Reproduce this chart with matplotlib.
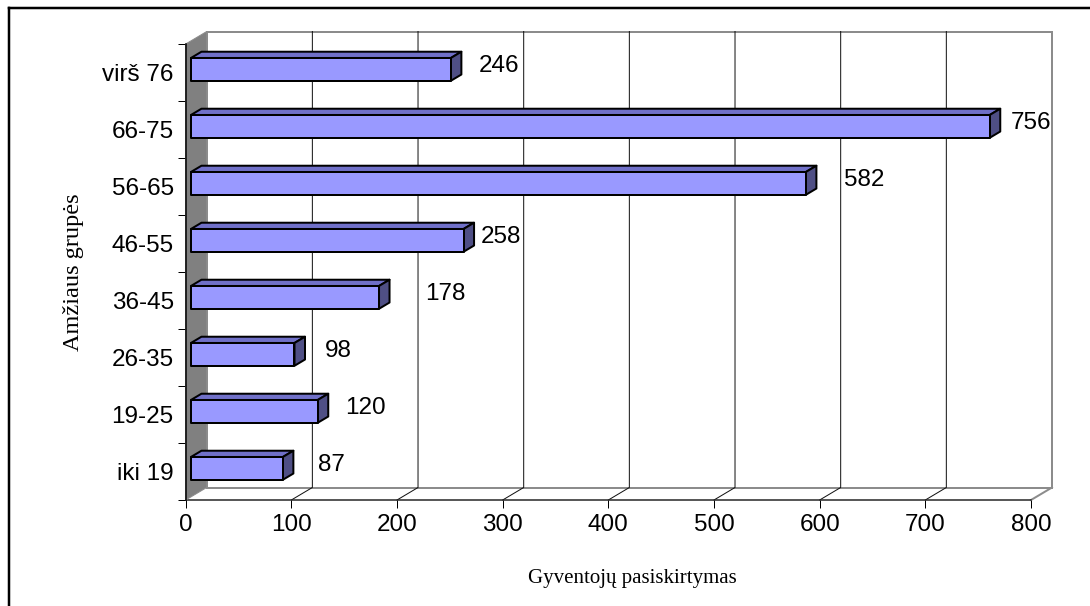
import matplotlib
matplotlib.use("Agg")
import matplotlib.pyplot as plt
from matplotlib.patches import Polygon
from matplotlib.lines import Line2D

# Age groups (bottom to top) and number of residents in each
groups = ["iki 19", "19-25", "26-35", "36-45", "46-55", "56-65", "66-75", "virš 76"]
counts = [87, 120, 98, 178, 258, 582, 756, 246]
x_ticks = [0, 100, 200, 300, 400, 500, 600, 700, 800]

# horizontal nudge of each value label, pixels
label_dx = [25, 17, 20, 36, 7, 28, 10, 17]

DPI = 100
W, H = 1090, 606
fig = plt.figure(figsize=(W / DPI, H / DPI), dpi=DPI)
fig.patch.set_facecolor("white")

x0, x1 = 185.7, 1031.0
y_bot, y_top = 500.0, 44.0
ax = fig.add_axes([x0 / W, 1 - y_bot / H, (x1 - x0) / W, (y_bot - y_top) / H])
ax.set_xlim(0, 800)
ax.set_ylim(-0.5, len(groups) - 0.5)
ax.patch.set_visible(False)

# 3-D depth of the plot box in data units
DX = 21.0 / ((x1 - x0) / 800)
DY = 12.5 / ((y_bot - y_top) / len(groups))
ytop = len(groups) - 0.5

grey = "#8c8c8c"
px = 72 / DPI
fs = 17.5

# back wall
ax.add_patch(Polygon([(DX, -0.5 + DY), (800 + DX, -0.5 + DY), (800 + DX, ytop + DY), (DX, ytop + DY)],
                     closed=True, facecolor="white", edgecolor=grey, lw=2 * px, clip_on=False, zorder=1))

# gridlines up the wall with their floor diagonals
for xv in x_ticks[1:-1]:
    ax.plot([xv, xv + DX, xv + DX], [-0.5, -0.5 + DY, ytop + DY], color="#111111", lw=1 * px,
            clip_on=False, zorder=2)
ax.plot([800, 800 + DX], [-0.5, -0.5 + DY], color=grey, lw=2 * px, clip_on=False, zorder=2)

# grey side wall
ax.add_patch(Polygon([(0, -0.5), (DX, -0.5 + DY), (DX, ytop + DY), (0, ytop)], closed=True,
                     facecolor="#808080", edgecolor=grey, lw=1 * px, clip_on=False, zorder=3))

# bars
h = 0.2
front_c, top_c, side_c = "#9999FF", "#7070C8", "#4F4F85"
for i, v in enumerate(counts):
    fx0 = 0.25 * DX
    fx1 = v + 0.25 * DX
    fy0 = i - h + 0.25 * DY
    fy1 = i + h + 0.25 * DY
    ddx, ddy = 0.5 * DX, 0.5 * DY
    kw = dict(closed=True, edgecolor="black", lw=2 * px, clip_on=False, zorder=4, joinstyle="round")
    ax.add_patch(Polygon([(fx0, fy1), (fx1, fy1), (fx1 + ddx, fy1 + ddy), (fx0 + ddx, fy1 + ddy)],
                         facecolor=top_c, **kw))
    ax.add_patch(Polygon([(fx1, fy0), (fx1 + ddx, fy0 + ddy), (fx1 + ddx, fy1 + ddy), (fx1, fy1)],
                         facecolor=side_c, **kw))
    ax.add_patch(Polygon([(fx0, fy0), (fx1, fy0), (fx1, fy1), (fx0, fy1)], facecolor=front_c, **kw))
    ax.annotate(str(v), xy=(v + 0.75 * DX, i + 0.5 * DY), xytext=(label_dx[i] * px, 0),
                textcoords="offset points", ha="left", va="center", fontsize=fs,
                family="Liberation Sans", zorder=5, annotation_clip=False)

# axes, ticks and labels
for s in ["top", "right"]:
    ax.spines[s].set_visible(False)
ax.spines["left"].set_linewidth(1.5 * px)
ax.spines["bottom"].set_linewidth(1.5 * px)
ax.spines["bottom"].set_color("#222222")
ax.spines["left"].set_zorder(6)

ax.set_xticks(x_ticks)
ax.set_xticklabels([str(t) for t in x_ticks], family="Liberation Sans", fontsize=fs)
ax.tick_params(axis="x", direction="out", length=8 * px, width=1 * px, pad=6 * px)

ax.set_yticks([k - 0.5 for k in range(len(groups) + 1)])
ax.set_yticklabels([])
ax.set_yticks(range(len(groups)), minor=True)
ax.set_yticklabels(groups, minor=True, family="Liberation Sans", fontsize=fs)
ax.tick_params(axis="y", which="major", direction="out", length=8 * px, width=1 * px)
ax.tick_params(axis="y", which="minor", length=0, pad=12 * px)

fig.text(73 / W, 1 - 272 / H, "Amžiaus grupės", rotation=90, ha="center", va="center",
         family="Liberation Serif", fontsize=17.5)
fig.text(632 / W, 1 - 578 / H, "Gyventojų pasiskirtymas", ha="center", va="center",
         family="Liberation Serif", fontsize=15)

# outer frame (top and left edges)
fig.add_artist(Line2D([9 / W, 9 / W], [0, 1 - 8 / H], color="black", lw=2.5 * px))
fig.add_artist(Line2D([9 / W, 1], [1 - 8 / H, 1 - 8 / H], color="black", lw=2.5 * px))

fig.savefig("out.png", dpi=DPI)
